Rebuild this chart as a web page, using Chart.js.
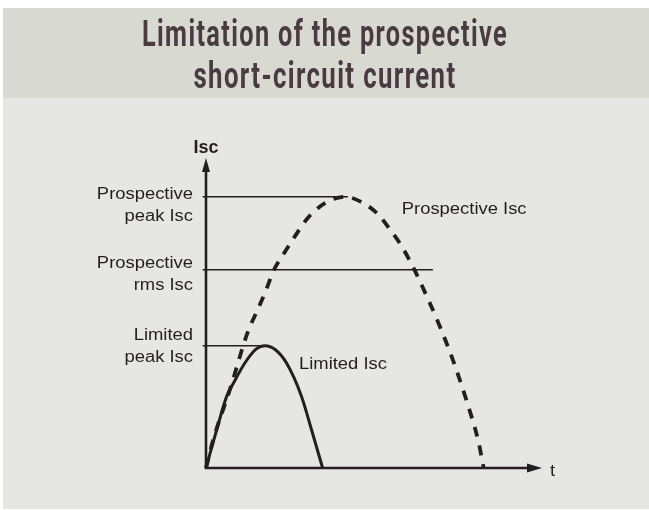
<!DOCTYPE html>
<html lang="en">
<head>
    <meta charset="UTF-8">
    <title>Limitation of the prospective short-circuit current</title>
    <script src="https://cdn.jsdelivr.net/npm/chart.js"></script>
    <style>
        body {
            margin: 0;
            padding: 0;
            background: #ffffff;
        }
        #wrap {
            width: 649px;
            height: 510px;
        }
    </style>
</head>
<body>
    <div id="wrap">
        <canvas id="iscChart" width="649" height="510"></canvas>
    </div>
    <script>
        // title lines
        const titleLines = ['Limitation of the prospective', 'short-circuit current'];

        // prospective (unlimited) short-circuit current
        const prospectiveT = [0, 0.26, 0.86, 1.5, 1.83, 2.12, 2.45, 2.78, 3.2, 3.62, 4.04, 4.5, 5.0, 5.55, 6.15, 6.63, 7.05, 7.49, 8.06, 8.37, 8.91, 9.39, 9.81, 10.0];
        const prospectiveIsc = [0, 10.4, 28.9, 50.0, 57.7, 64.5, 73.1, 78.7, 85.4, 91.6, 95.9, 98.8, 100, 98.3, 94.0, 87.9, 81.7, 73.4, 60.8, 53.5, 39.3, 24.6, 9.8, 0];

        // limited short-circuit current
        const limitedT = [0, 0.385, 0.745, 1.0, 1.4, 1.8, 2.12, 2.5, 2.9, 3.44, 3.8, 4.2];
        const limitedIsc = [0, 14.1, 26.4, 31.5, 38.7, 43.8, 45.1, 43.6, 38.7, 26.4, 14.1, 0];

        // horizontal reference levels
        const levelValues = [100, 73.1, 45.1];
        const levelEnds = [5.11, 8.17, 2.12];
        const levelStart = -0.12;
        const levelLabels = [['Prospective', 'peak Isc'], ['Prospective', 'rms Isc'], ['Limited', 'peak Isc']];

        // curve labels [text, t, value]
        const curveLabels = [['Prospective Isc', 7.05, 93.6], ['Limited Isc', 3.35, 36.5]];

        // axis names and extents
        const axisNames = { x: 't', y: 'Isc' };
        const tMax = 12.1;
        const iscMax = 114.3;

        const ink = '#231f20';

        function pts(xs, ys) {
            return xs.map((x, i) => ({ x: x, y: ys[i] }));
        }

        const levelSets = levelValues.map((v, i) => ({
            label: 'level ' + i,
            data: [{ x: levelStart, y: v }, { x: levelEnds[i], y: v }],
            borderColor: ink,
            borderWidth: 1.4,
            pointRadius: 0,
            showLine: true,
            clip: false
        }));

        // backgrounds, title, axes and text
        const decor = {
            id: 'decor',
            beforeDraw(chart) {
                const ctx = chart.ctx;
                ctx.save();
                ctx.fillStyle = '#ffffff';
                ctx.fillRect(0, 0, chart.width, chart.height);
                ctx.fillStyle = '#d8d9d0';
                ctx.fillRect(3, 8, chart.width - 3, 90);
                ctx.fillStyle = '#e6e7e3';
                ctx.fillRect(3, 98, chart.width - 3, 411);

                // condensed title
                ctx.fillStyle = '#4a3b42';
                ctx.textAlign = 'center';
                ctx.textBaseline = 'alphabetic';
                ctx.font = '700 37px Roboto';
                ctx.letterSpacing = '2px';
                const targets = [366, 263];
                const bases = [46, 88];
                titleLines.forEach((t, i) => {
                    const w = ctx.measureText(t).width;
                    ctx.save();
                    ctx.translate(325, bases[i]);
                    ctx.scale(targets[i] / w, 1);
                    ctx.fillText(t, 0, 0);
                    ctx.restore();
                });
                ctx.letterSpacing = '0px';
                ctx.restore();
            },
            afterDatasetsDraw(chart) {
                const ctx = chart.ctx;
                const xs = chart.scales.x, ys = chart.scales.y;
                const x0 = xs.getPixelForValue(0), y0 = ys.getPixelForValue(0);
                const xEnd = xs.getPixelForValue(tMax), yEnd = ys.getPixelForValue(iscMax);
                ctx.save();
                ctx.strokeStyle = ink;
                ctx.fillStyle = ink;
                ctx.lineWidth = 2.6;
                ctx.beginPath();
                ctx.moveTo(x0, y0);
                ctx.lineTo(xEnd - 10, y0);
                ctx.moveTo(x0, y0 + 1.3);
                ctx.lineTo(x0, yEnd + 10);
                ctx.stroke();
                // arrow heads
                ctx.beginPath();
                ctx.moveTo(xEnd, y0);
                ctx.lineTo(xEnd - 15, y0 - 4.5);
                ctx.lineTo(xEnd - 15, y0 + 4.5);
                ctx.closePath();
                ctx.fill();
                ctx.beginPath();
                ctx.moveTo(x0, yEnd);
                ctx.lineTo(x0 - 4, yEnd + 14);
                ctx.lineTo(x0 + 4, yEnd + 14);
                ctx.closePath();
                ctx.fill();

                function say(text, x, y, align) {
                    const w = ctx.measureText(text).width * 1.15;
                    ctx.save();
                    ctx.translate(align === 'right' ? x - w : x, y);
                    ctx.scale(1.15, 1);
                    ctx.textAlign = 'left';
                    ctx.fillText(text, 0, 0);
                    ctx.restore();
                }

                ctx.textBaseline = 'alphabetic';
                ctx.font = '16px "Liberation Sans", Arial, sans-serif';
                const firstOffsets = [2.5, -1.7, -5.3];
                levelValues.forEach((v, i) => {
                    const py = ys.getPixelForValue(v);
                    say(levelLabels[i][0], 193, py + firstOffsets[i], 'right');
                    say(levelLabels[i][1], 193, py + firstOffsets[i] + 22, 'right');
                });
                curveLabels.forEach(c => {
                    say(c[0], xs.getPixelForValue(c[1]), ys.getPixelForValue(c[2]), 'left');
                });
                say(axisNames.x, xEnd + 8, y0 + 7.5, 'left');

                ctx.font = 'bold 18px "Liberation Sans", Arial, sans-serif';
                ctx.textAlign = 'center';
                ctx.fillText(axisNames.y, x0, yEnd - 5.5);
                ctx.restore();
            }
        };

        new Chart(document.getElementById('iscChart'), {
            type: 'scatter',
            data: {
                datasets: levelSets.concat([
                    {
                        label: 'Limited Isc',
                        data: pts(limitedT, limitedIsc),
                        borderColor: ink,
                        borderWidth: 3,
                        pointRadius: 0,
                        showLine: true,
                        cubicInterpolationMode: 'monotone',
                        clip: false
                    },
                    {
                        label: 'Prospective Isc',
                        data: pts(prospectiveT, prospectiveIsc),
                        borderColor: ink,
                        borderWidth: 3.8,
                        borderDash: [10, 9],
                        borderCapStyle: 'butt',
                        pointRadius: 0,
                        showLine: true,
                        cubicInterpolationMode: 'monotone',
                        clip: false
                    }
                ])
            },
            options: {
                responsive: false,
                animation: false,
                layout: {
                    padding: { left: 206, right: 107, top: 158, bottom: 42 }
                },
                scales: {
                    x: { type: 'linear', min: 0, max: tMax, display: false },
                    y: { type: 'linear', min: 0, max: iscMax, display: false }
                },
                plugins: {
                    legend: { display: false },
                    tooltip: { enabled: false }
                }
            },
            plugins: [decor]
        });
    </script>
</body>
</html>
